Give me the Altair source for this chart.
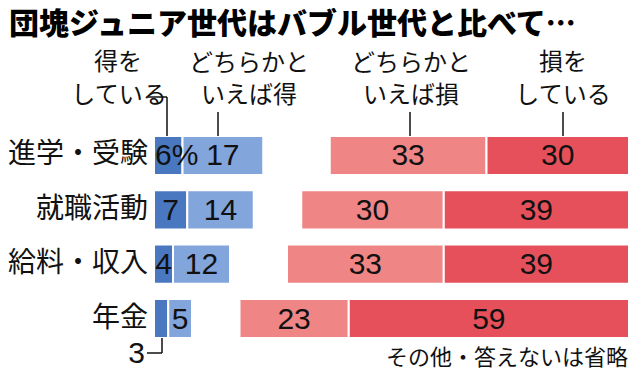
import altair as alt
import pandas as pd

# ---- data ----
categories = ["進学・受験", "就職活動", "給料・収入", "年金"]
toku = [6, 7, 4, 3]                 # 得をしている
yaya_toku = [17, 14, 12, 5]         # どちらかといえば得
yaya_son = [33, 30, 33, 23]         # どちらかといえば損
son = [30, 39, 39, 59]              # 損をしている

series_names = ["得をしている", "どちらかといえば得", "どちらかといえば損", "損をしている"]
series_colors = ["#4a78c0", "#82a5dc", "#f08585", "#e6505a"]

title_text = "団塊ジュニア世代はバブル世代と比べて…"
note_text = "その他・答えないは省略"

# ---- build segment table (blue stacked from 0, red stacked back from 100) ----
rows = []
for i, c in enumerate(categories):
    a, b, d, e = toku[i], yaya_toku[i], yaya_son[i], son[i]
    segs = [
        (series_names[0], 0, a, a),
        (series_names[1], a, a + b, b),
        (series_names[2], 100 - e - d, 100 - e, d),
        (series_names[3], 100 - e, 100, e),
    ]
    for s, x0, x1, v in segs:
        lab = str(v)
        inside = True
        if s == series_names[0] and i == 0:
            lab = f"{v}%"
        if s == series_names[0] and i == len(categories) - 1:
            inside = False
        rows.append(dict(cat=c, series=s, x0=x0, x1=x1, mid=(x0 + x1) / 2,
                         label=lab, inside=inside, first=(s == series_names[0] and i == 0)))
df = pd.DataFrame(rows)

W, H = 624, 364
xscale = alt.Scale(domain=[0, 100], range=[146, 621])
yscale = alt.Scale(domain=categories, range=[120.3, 337.7], paddingInner=0.28, paddingOuter=0.14)
num_font = "Liberation Sans Narrow, Liberation Sans, Arial, sans-serif"
jp_font = "Noto Sans CJK JP"

base = alt.Chart(df)

bars = base.mark_bar(stroke="white", strokeWidth=2).encode(
    x=alt.X("x0:Q", scale=xscale, axis=None),
    x2="x1:Q",
    y=alt.Y("cat:N", scale=yscale, axis=None),
    color=alt.Color("series:N", scale=alt.Scale(domain=series_names, range=series_colors), legend=None),
)

vals = base.transform_filter("datum.inside && !datum.first").mark_text(
    font=num_font, fontSize=30, color="#111", baseline="middle", align="center", dy=1
).encode(
    x=alt.X("mid:Q", scale=xscale, axis=None),
    y=alt.Y("cat:N", scale=yscale, axis=None),
    text="label:N",
)

first_val = base.transform_filter("datum.first").mark_text(
    font=num_font, fontSize=30, color="#111", baseline="middle", align="left", dx=1, dy=1
).encode(
    x=alt.X("x0:Q", scale=xscale, axis=None),
    y=alt.Y("cat:N", scale=yscale, axis=None),
    text="label:N",
)

outside_val = base.transform_filter("!datum.inside").mark_text(
    font=num_font, fontSize=30, color="#111", baseline="middle", align="right"
).encode(
    x=alt.value(137), y=alt.value(346), text="label:N",
)

cat_df = pd.DataFrame({"cat": categories})
cat_labels = alt.Chart(cat_df).mark_text(
    font=jp_font, fontSize=28, color="#111", align="right", baseline="middle"
).encode(
    x=alt.value(140),
    y=alt.Y("cat:N", scale=yscale, axis=None),
    text="cat:N",
)

# header annotations (two lines each)
hdr_df = pd.DataFrame({
    "t": ["得を", "している", "どちらかと", "いえば得", "どちらかと", "いえば損", "損を", "している"],
    "px": [110, 111, 241, 241, 403, 403, 555, 555],
    "py": [55, 88, 56, 88, 56, 88, 55, 88],
})
headers = alt.Chart(hdr_df).mark_text(
    font=jp_font, fontSize=24, color="#111", align="center", baseline="middle"
).encode(
    x=alt.X("px:Q", scale=None), y=alt.Y("py:Q", scale=None), text="t:N"
)

# leader lines
lead_df = pd.DataFrame({
    "xa": [140, 159, 210, 402, 555, 139, 154],
    "xb": [159, 159, 210, 402, 555, 154, 154],
    "ya": [89, 89, 104, 104, 104, 345, 330],
    "yb": [89, 128, 128, 128, 128, 345, 345],
})
leads = alt.Chart(lead_df).mark_rule(color="#111", strokeWidth=1.5).encode(
    x=alt.X("xa:Q", scale=None), x2="xb:Q",
    y=alt.Y("ya:Q", scale=None), y2="yb:Q",
)

title = alt.Chart(pd.DataFrame({"t": [title_text]})).mark_text(
    font=jp_font, fontSize=30, fontWeight=900, color="#000", align="left", baseline="top"
).encode(x=alt.value(1), y=alt.value(2), text="t:N")

note = alt.Chart(pd.DataFrame({"t": [note_text]})).mark_text(
    font=jp_font, fontSize=22, color="#111", align="right", baseline="middle"
).encode(x=alt.value(620), y=alt.value(350), text="t:N")

chart = alt.layer(
    bars, vals, first_val, outside_val, cat_labels, headers, leads, title, note
).properties(
    width=W, height=H, autosize=alt.AutoSizeParams(type="none"), padding=0
).configure_view(stroke=None).resolve_scale(x="shared", y="shared")

chart.save("out.html", embed_options={"renderer": "svg", "actions": False})
